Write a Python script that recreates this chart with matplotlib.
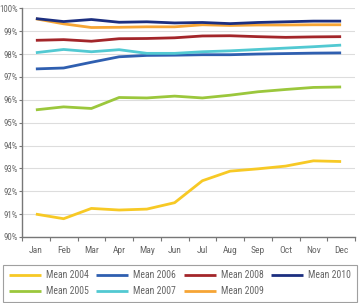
import matplotlib
matplotlib.use("Agg")
import matplotlib.pyplot as plt
from matplotlib.ticker import FixedLocator, FuncFormatter

plt.rcParams["font.family"] = ["Roboto Condensed", "DejaVu Sans"]

months = ["Jan", "Feb", "Mar", "Apr", "May", "Jun", "Jul", "Aug", "Sep", "Oct", "Nov", "Dec"]

mean_2004 = [91.0, 90.8, 91.25, 91.18, 91.22, 91.5, 92.46, 92.88, 92.98, 93.1, 93.33, 93.3]
mean_2005 = [95.56, 95.69, 95.62, 96.1, 96.08, 96.16, 96.08, 96.2, 96.35, 96.45, 96.54, 96.56]
mean_2006 = [97.35, 97.39, 97.64, 97.88, 97.94, 97.95, 97.97, 97.97, 98.0, 98.02, 98.04, 98.05]
mean_2007 = [98.06, 98.2, 98.1, 98.19, 98.03, 98.03, 98.1, 98.14, 98.2, 98.26, 98.32, 98.39]
mean_2008 = [98.6, 98.63, 98.56, 98.67, 98.68, 98.71, 98.79, 98.8, 98.76, 98.73, 98.75, 98.76]
mean_2009 = [99.54, 99.32, 99.16, 99.17, 99.19, 99.19, 99.28, 99.25, 99.27, 99.27, 99.28, 99.28]
mean_2010 = [99.55, 99.42, 99.51, 99.39, 99.41, 99.36, 99.38, 99.33, 99.38, 99.41, 99.44, 99.44]

series = [
    ("Mean 2004", mean_2004, "#f7c925"),
    ("Mean 2005", mean_2005, "#9bc73c"),
    ("Mean 2006", mean_2006, "#2f5fb0"),
    ("Mean 2007", mean_2007, "#52c9d2"),
    ("Mean 2008", mean_2008, "#a3262a"),
    ("Mean 2009", mean_2009, "#f6a535"),
    ("Mean 2010", mean_2010, "#1c2f80"),
]

fig = plt.figure(figsize=(3.6, 3.03), dpi=100)
ax = fig.add_axes([22 / 360, 1 - 237 / 303, 333 / 360, (237 - 8.3) / 303])

x = list(range(len(months)))
for label, vals, color in series:
    ax.plot(x, vals, color=color, lw=2.0, label=label, solid_capstyle="butt")

ax.set_xlim(-0.5, 11.5)
ax.set_ylim(90, 100)
ax.set_yticks(range(90, 101))
ax.yaxis.set_major_formatter(FuncFormatter(lambda v, p: f"{int(v)}%"))
ax.set_xticks(x)
ax.set_xticklabels(months)
ax.xaxis.set_minor_locator(FixedLocator([i + 0.5 for i in range(-1, 12)]))
ax.tick_params(axis="x", which="major", length=0, pad=6.5, labelsize=6.8, colors="#666666")
ax.tick_params(axis="x", which="minor", length=3, color="#777777", width=0.8)
ax.tick_params(axis="y", length=2.5, pad=0.5, labelsize=6.3, colors="#666666", color="#777777")

ax.grid(axis="y", color="#dddddd", lw=0.8)
ax.set_axisbelow(True)
for s in ["top", "right"]:
    ax.spines[s].set_visible(False)
ax.spines["left"].set_color("#777777")
ax.spines["bottom"].set_color("#777777")
ax.spines["left"].set_linewidth(1.0)
ax.spines["bottom"].set_linewidth(1.0)

leg = fig.legend(loc="lower left", bbox_to_anchor=(3 / 360, 1 / 303, 354 / 360, 40 / 303),
                 mode="expand", ncol=4, fontsize=7, frameon=True, fancybox=False,
                 handlelength=3.3, columnspacing=0.8, handletextpad=0.5, borderaxespad=0,
                 labelspacing=0.6, borderpad=0.6)
leg.get_frame().set_edgecolor("#888888")
leg.get_frame().set_linewidth(0.8)
for t in leg.get_texts():
    t.set_color("#666666")

fig.savefig("out.png", dpi=100)
